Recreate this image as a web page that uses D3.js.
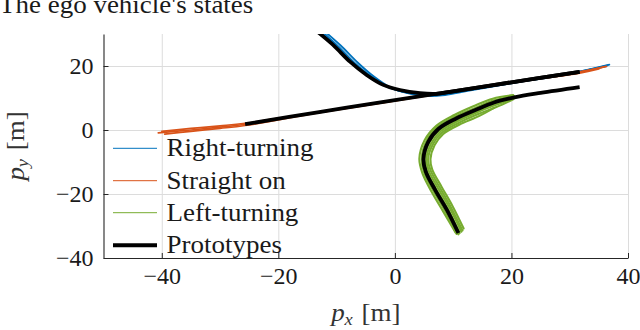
<!DOCTYPE html>
<html><head><meta charset="utf-8">
<script src="https://cdn.jsdelivr.net/npm/d3@7"></script>
<style>body{margin:0;background:#fff} svg{display:block}</style>
</head><body>
<svg id="c" width="640" height="330"></svg>
<script>
// ---------- data ----------
const titleText = "The ego vehicle's states";
const xTicks = [-40, -20, 0, 20, 40];
const yTicks = [-40, -20, 0, 20];
const legendLabels = ["Right-turning", "Straight on", "Left-turning", "Prototypes"];
const classColors = ["#0072BD", "#D95319", "#77AC30", "#000000"];

// recorded trajectories (px, py) in metres
const rightTurning = [
  [[-12.4,30.6],[-9.8,26.3],[-6.9,21.0],[-4.1,16.8],[-1.3,13.6],[1.5,11.9],[4.8,10.9],[8.0,11.0],[12,12.3],[20,14.7],[30,17.6],[36.8,20.4]],
  [[-11.9,30.6],[-9.3,26.4],[-6.4,21.1],[-3.6,16.7],[-0.8,13.3],[2.0,11.6],[5.2,10.6],[8.6,10.9],[12.5,12.2],[20,14.6],[30,17.5],[36.5,20.2]],
  [[-12.8,30.6],[-10.2,26.4],[-7.3,21.1],[-4.5,16.9],[-1.7,13.8],[1.2,12.1],[4.5,11.1],[7.6,11.1],[12,12.3],[20,14.8],[30,17.7],[36.2,19.9]]
];
const straightOn = [
  [[-40.6,-0.9],[-35,0.0],[-30,0.9],[-25.7,1.8],[-13,5.5],[0,9.2],[10,12.1],[20,14.9],[31.7,18.1],[36.3,19.9]],
  [[-40.0,-0.4],[-35,0.5],[-30,1.3],[-25.7,2.1],[-13,5.7],[0,9.4],[10,12.2],[20,15.0],[31.7,18.2],[35.8,19.7]],
  [[-39.5,-1.3],[-35,-0.4],[-30,0.5],[-25.7,1.4],[-13,5.4],[0,9.1],[10,12.0],[20,14.8],[31.7,17.8],[35.0,19.1]]
];
const leftTurning = [
  [[20.3,10.9],[16.8,9.8],[13.7,7.6],[10.2,4.7],[7.1,1.3],[5.1,-3.2],[4.2,-8.9],[4.7,-13.4],[6.3,-19.3],[8.3,-25.5],[10.4,-32.0]],
  [[20.4,10.7],[16.9,9.2],[13.9,7.0],[10.3,4.2],[7.3,0.9],[5.4,-3.5],[4.6,-9.0],[5.0,-13.2],[6.6,-19.0],[8.6,-25.2],[10.6,-32.5]],
  [[20.5,10.4],[17.0,8.6],[14.0,6.4],[10.5,3.6],[7.5,0.4],[5.7,-3.8],[4.9,-9.0],[5.3,-13.0],[6.9,-18.7],[8.9,-24.9],[10.9,-32.6]],
  [[20.6,10.2],[17.1,8.2],[14.1,6.0],[10.6,3.2],[7.7,0.1],[5.9,-4.0],[5.1,-9.0],[5.5,-12.9],[7.1,-18.5],[9.1,-24.7],[11.1,-32.2]],
  [[20.6,10.0],[17.1,7.7],[14.2,5.6],[10.8,2.8],[7.9,-0.3],[6.2,-4.3],[5.4,-9.0],[5.8,-12.7],[7.4,-18.2],[9.4,-24.4],[11.4,-31.8]],
  [[20.3,9.6],[17.3,7.1],[14.3,5.0],[10.9,2.2],[8.1,-0.8],[6.5,-4.5],[5.7,-9.1],[6.1,-12.5],[7.7,-18.0],[9.6,-24.1],[11.6,-31.4]],
  [[17.0,6.9],[14.5,4.4],[11.1,1.7],[8.3,-1.2],[6.8,-4.8],[6.1,-9.1],[6.4,-12.3],[8.0,-17.7],[9.9,-23.8],[11.8,-30.8]]
];
// prototypes
const protoRight = [[-13.2,30.6],[-10.6,26.6],[-7.7,21.35],[-4.85,17.2],[-2.0,14.1],[0.86,12.5],[4.3,11.5],[7.15,11.3],[10,12.1],[20,14.9],[31.7,18.2]];
const protoStraight = [[-25.7,1.8],[-13,5.6],[0,9.3],[10,12.1],[20,14.9],[31.7,18.2]];
const protoLeft = [[31.7,13.4],[25,11.6],[20.5,10.2],[17,8.6],[14,6.4],[10.5,3.6],[7.5,0.4],[5.7,-3.8],[4.9,-9.0],[5.3,-13.0],[6.9,-18.7],[8.9,-24.9],[10.9,-32.2]];

// ---------- layout ----------
const svg = d3.select("#c");
const m = {l:103.5, r:628, t:34, b:258};
const x = d3.scaleLinear().domain([-50, 40]).range([m.l, m.r]);
const y = d3.scaleLinear().domain([-40, 30]).range([m.b, m.t]);
const FONT = "'Liberation Serif','Times New Roman',serif";
const S = 1.08; // slight horizontal text stretch (Computer Modern is wider than Times)
const TXT = "#1a1a1a";

svg.append("defs").append("clipPath").attr("id","plot")
  .append("rect").attr("x",m.l).attr("y",m.t).attr("width",m.r-m.l).attr("height",m.b-m.t);

// grid
const grid = svg.append("g");
grid.append("g").attr("transform",`translate(0,${m.b})`)
  .call(d3.axisBottom(x).tickValues(xTicks).tickSize(-(m.b-m.t)).tickFormat(""))
  .call(g=>{g.select(".domain").remove(); g.selectAll("line").attr("stroke","#dcdcdc").attr("stroke-width",1);});
grid.append("g").attr("transform",`translate(${m.l},0)`)
  .call(d3.axisLeft(y).tickValues(yTicks).tickSize(-(m.r-m.l)).tickFormat(""))
  .call(g=>{g.select(".domain").remove(); g.selectAll("line").attr("stroke","#dcdcdc").attr("stroke-width",1);});

// trajectories
const line = d3.line().x(d=>x(d[0])).y(d=>y(d[1])).curve(d3.curveCatmullRom.alpha(0.5));
const plot = svg.append("g").attr("clip-path","url(#plot)");
[[rightTurning,0,1.8],[straightOn,1,1.7],[leftTurning,2,2.1]].forEach(([set,ci,w])=>{
  plot.selectAll(null).data(set).enter().append("path")
    .attr("d",line).attr("fill","none").attr("stroke",classColors[ci])
    .attr("stroke-width",w).attr("stroke-linecap","round");
});
plot.selectAll(null).data([protoRight, protoStraight, protoLeft]).enter().append("path")
  .attr("d",line).attr("fill","none").attr("stroke",classColors[3])
  .attr("stroke-width",3.8).attr("stroke-linecap","butt");

// axes
const axColor = "#262626";
const xa = svg.append("g").attr("transform",`translate(0,${m.b})`)
  .call(d3.axisBottom(x).tickValues(xTicks).tickSizeInner(-5).tickSizeOuter(0).tickPadding(0));
const ya = svg.append("g").attr("transform",`translate(${m.l},0)`)
  .call(d3.axisLeft(y).tickValues(yTicks).tickSizeInner(-5).tickSizeOuter(0).tickPadding(0));
[xa, ya].forEach(a=>{
  a.select(".domain").attr("stroke",axColor).attr("stroke-width",1.1);
  a.selectAll(".tick line").attr("stroke",axColor);
  a.selectAll("text").attr("font-family",FONT).attr("font-size",24).attr("fill",TXT);
});
xa.selectAll("text").attr("y",26).attr("dy",null);
ya.selectAll("text").attr("x",-10).attr("dy","0.33em");

// title
svg.append("text").attr("transform",`translate(-1,12.5) scale(${S},1)`)
  .attr("font-family",FONT).attr("font-size",25).attr("fill",TXT).text(titleText);

// axis labels
const xl = svg.append("text").attr("transform",`translate(${(m.l+m.r)/2},321) scale(${S},1)`)
  .attr("text-anchor","middle").attr("font-family",FONT).attr("font-size",25).attr("fill","#333");
xl.append("tspan").attr("font-style","italic").text("p");
xl.append("tspan").attr("font-style","italic").attr("font-size",17).attr("dy",4).text("x");
xl.append("tspan").attr("dy",-4).attr("dx",8).text("[m]");

const yl = svg.append("text").attr("transform",`translate(24,${(m.t+m.b)/2}) rotate(-90) scale(${S},1)`)
  .attr("text-anchor","middle").attr("font-family",FONT).attr("font-size",25).attr("fill","#333");
yl.append("tspan").attr("font-style","italic").text("p");
yl.append("tspan").attr("font-style","italic").attr("font-size",17).attr("dy",4).text("y");
yl.append("tspan").attr("dy",-4).attr("dx",8).text("[m]");

// legend
const lg = svg.append("g");
const rowY = [148.3, 180.7, 212.7, 245.2];
legendLabels.forEach((lab,i)=>{
  lg.append("line").attr("x1",113).attr("x2",157).attr("y1",rowY[i]).attr("y2",rowY[i])
    .attr("stroke",classColors[i]).attr("stroke-width",i===3?4:1);
  lg.append("text").attr("transform",`translate(166.5,${rowY[i]+8}) scale(${S},1)`)
    .attr("font-family",FONT).attr("font-size",25).attr("fill",TXT).text(lab);
});
</script>
</body></html>
